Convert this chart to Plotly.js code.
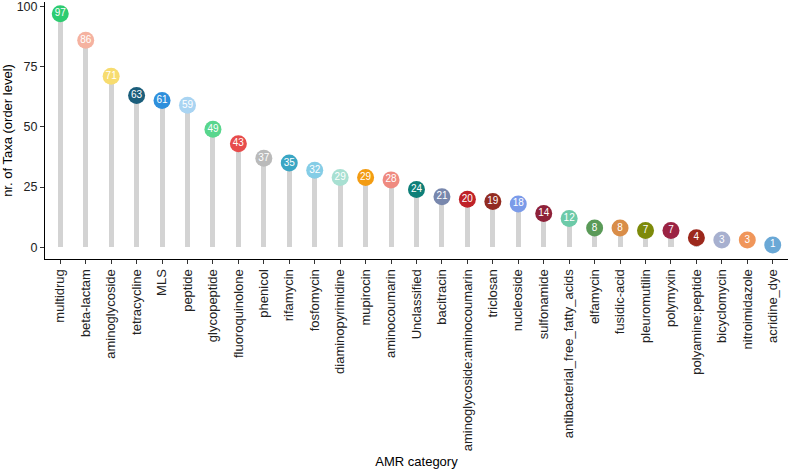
<!DOCTYPE html>
<html>
<head>
<meta charset="utf-8">
<script src="https://cdn.plot.ly/plotly-3.0.1.min.js"></script>
<style>html,body{margin:0;padding:0;background:#fff;}#chart{width:788px;height:469px;}</style>
</head>
<body>
<div id="chart"></div>
<script>
const categories = ["multidrug","beta-lactam","aminoglycoside","tetracycline","MLS","peptide","glycopeptide","fluoroquinolone","phenicol","rifamycin","fosfomycin","diaminopyrimidine","mupirocin","aminocoumarin","Unclassified","bacitracin","aminoglycoside:aminocoumarin","triclosan","nucleoside","sulfonamide","antibacterial_free_fatty_acids","elfamycin","fusidic-acid","pleuromutilin","polymyxin","polyamine:peptide","bicyclomycin","nitroimidazole","acridine_dye"];
const taxaCounts = [97,86,71,63,61,59,49,43,37,35,32,29,29,28,24,21,20,19,18,14,12,8,8,7,7,4,3,3,1];
const dotColors = ["#2ecc71","#f5b2a0","#f7dc6f","#1b5e7b","#2e8fdc","#a9d4f2","#58d68d","#e74c4c","#bababa","#3aa6c4","#85cde6","#a8e0d2","#f39c12","#ef8a80","#0e7f78","#7887ad","#bf2228","#922b21","#7b9be9","#8e2139","#6ccaa8","#5a9a58","#d98d48","#7d8a0a","#9b2343","#9c281c","#a7b0cf","#f0965a","#6aa8d6"];

const stems = {
  type: "bar", x: categories, y: taxaCounts, width: 0.2,
  marker: {color: "#d3d3d3", line: {width: 0}},
  hoverinfo: "skip", showlegend: false
};
const dots = {
  type: "scatter", mode: "markers+text", x: categories, y: taxaCounts,
  marker: {size: 17, color: dotColors, line: {width: 0}},
  text: taxaCounts.map(String), textposition: "middle center",
  textfont: {family: "Liberation Sans, Arial, sans-serif", size: 10, color: "#ffffff"},
  showlegend: false, cliponaxis: false
};
const layout = {
  width: 788, height: 469,
  margin: {l: 45, r: 0, t: 2, b: 210},
  paper_bgcolor: "#fff", plot_bgcolor: "#fff",
  font: {family: "Liberation Sans, Arial, sans-serif", color: "#222"},
  bargap: 0,
  xaxis: {
    type: "category", range: [-0.6, categories.length - 0.4],
    tickangle: -90, tickfont: {size: 13, color: "#222"},
    showline: true, linecolor: "#000", linewidth: 1,
    ticks: "outside", ticklen: 4, tickcolor: "#333", tickwidth: 1,
    showgrid: false, zeroline: false,
    title: {text: "AMR category", font: {size: 13, color: "#000"}, standoff: 14}
  },
  yaxis: {
    range: [-4.85, 101.85], tickvals: [0,25,50,75,100],
    tickfont: {size: 12.5, color: "#222"}, ticklabeloverflow: "allow",
    showline: true, linecolor: "#000", linewidth: 1,
    ticks: "outside", ticklen: 4, tickcolor: "#333", tickwidth: 1,
    showgrid: false, zeroline: false,
    title: {text: "nr. of Taxa (order level)", font: {size: 13, color: "#000"}, standoff: 5}
  }
};
Plotly.newPlot("chart", [stems, dots], layout, {displayModeBar: false, staticPlot: true});
</script>
</body>
</html>
